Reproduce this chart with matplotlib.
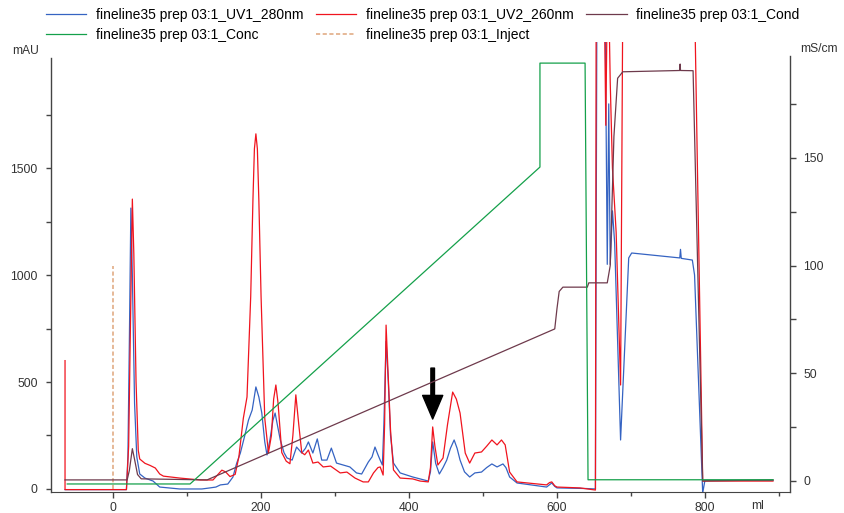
#!/usr/bin/env python3
"""
plot.py

Chromatogram of run fineline35 prep 03:1 (UV 280/260 nm, conductivity,
gradient concentration and injection mark). Writes out.png.
"""

import matplotlib
matplotlib.use("Agg")
import matplotlib.pyplot as plt
from matplotlib.ticker import MultipleLocator


# ------------------------
# Data
# ------------------------

uv1_ml = [-65, 18, 20, 22, 24, 26, 29, 32, 36, 43, 54, 63, 90, 120, 131, 139,
          145, 155, 162, 167, 172, 178, 183, 188, 193, 197, 201, 205, 208, 212,
          216, 219, 222, 226, 231, 235, 242, 248, 255, 260, 264, 270, 276, 282,
          289, 295, 302, 311, 320, 329, 336, 345, 350, 354, 358, 361, 364, 366,
          369, 372, 375, 379, 388, 405, 415, 426, 429, 432, 436, 441, 446, 451,
          456, 461, 465, 469, 475, 482, 489, 498, 505, 512, 519, 527, 531, 536,
          546, 586, 590, 593, 597, 600, 640, 652, 654, 665, 668, 670, 672, 675,
          678, 686, 697, 701, 766, 767, 768, 783, 786, 797, 800, 892]
uv1_mau = [-3, -3, 150, 700, 1313, 1000, 400, 150, 70, 51, 37, 9, 0, 0, 5, 9,
           19, 23, 56, 120, 168, 250, 322, 369, 477, 430, 355, 220, 159, 230,
           320, 355, 300, 229, 170, 145, 135, 196, 168, 190, 220, 168, 234, 135,
           135, 191, 121, 112, 103, 75, 70, 126, 150, 196, 160, 135, 112, 300,
           690, 500, 250, 121, 75, 56, 47, 37, 80, 220, 120, 70, 100, 135,
           190, 229, 190, 135, 80, 56, 75, 79, 100, 117, 103, 117, 100, 56,
           28, 9, 20, 28, 12, 5, 2, 0, 2300, 2300, 1050, 1800, 1050, 1300,
           1150, 229, 1080, 1103, 1080, 1120, 1078, 1070, 1000, -19, 40, 40]

uv2_ml = [-65, -65, 18, 21, 24, 26, 28, 31, 34, 36, 43, 50, 57, 63, 68, 90,
          118, 135, 147, 152, 158, 165, 170, 176, 181, 186, 189, 191, 193, 195,
          197, 200, 205, 210, 214, 217, 220, 223, 228, 234, 239, 243, 247, 251,
          255, 259, 264, 270, 277, 284, 294, 307, 316, 327, 338, 345, 352, 358,
          361, 365, 367, 369, 371, 375, 379, 388, 405, 415, 426, 429, 432, 435,
          439, 446, 452, 459, 464, 469, 476, 482, 489, 498, 505, 512, 519, 525,
          530, 536, 546, 586, 590, 593, 597, 600, 631, 652, 653, 664, 666, 668,
          670, 672, 675, 680, 686, 689, 786, 797, 892]
uv2_mau = [600, -3, -3, 200, 900, 1355, 1100, 500, 180, 140, 120, 110, 98, 70,
           60, 51, 42, 42, 88, 80, 58, 68, 150, 330, 430, 900, 1350, 1590, 1660,
           1590, 1350, 900, 330, 170, 250, 420, 486, 400, 170, 130, 118, 250,
           440, 300, 170, 160, 182, 121, 126, 103, 107, 75, 79, 51, 33, 33, 75,
           100, 103, 65, 300, 766, 600, 276, 89, 51, 47, 37, 33, 100, 290, 200,
           112, 145, 300, 453, 420, 355, 168, 121, 168, 173, 200, 229, 206, 229,
           206, 79, 33, 19, 30, 33, 15, 9, 5, -5, 2300, 2300, 1700, 2300, 2300,
           1900, 1500, 1200, 486, 2300, 2300, 37, 37]

cond_ml = [-65, 19, 22, 26, 29, 33, 38, 127, 597, 600, 603, 608, 641, 643, 668,
           672, 677, 682, 689, 766, 766.5, 767, 784, 797, 892]
cond_ms = [0.5, 0.5, 5, 15, 10, 3, 1, 0.5, 70.6, 80, 88, 90, 90, 92, 92,
           100, 160, 187, 190, 190.6, 193.6, 190.6, 190.5, 0, 0.5]

conc_ml = [-62, 104, 577, 577, 638, 642, 892]
conc_pct = [0, 0, 75.3, 100, 100, 1, 1]

inject_ml = [0, 0]
inject_mau = [0, 1042]

mau_ticks = [0, 500, 1000, 1500]
mau_minor = [250, 750, 1250, 1750]
ms_ticks = [0, 50, 100, 150]
ms_minor = [25, 75, 125, 175]

# peak of interest marked with an arrow
arrow_ml = 432
arrow_from, arrow_to = 565, 327

LABELS = {
    "uv1": "fineline35 prep 03:1_UV1_280nm",
    "uv2": "fineline35 prep 03:1_UV2_260nm",
    "cond": "fineline35 prep 03:1_Cond",
    "conc": "fineline35 prep 03:1_Conc",
    "inject": "fineline35 prep 03:1_Inject",
}

COLORS = {
    "uv1": "#3563c2",
    "uv2": "#f0141e",
    "cond": "#6e3a4c",
    "conc": "#14a04a",
    "inject": "#e2ad86",
}


# ------------------------
# Chart
# ------------------------

def style_axis(ax, side):
    for s in ("top", "right", "left", "bottom"):
        ax.spines[s].set_visible(False)
    if side:
        ax.spines[side].set_visible(True)
        ax.spines[side].set_color("#444444")
        ax.spines[side].set_linewidth(1.0)


def main():
    plt.rcParams["font.family"] = ["Liberation Sans", "DejaVu Sans"]
    fig = plt.figure(figsize=(8.44, 5.13), dpi=100)
    ax = fig.add_axes([0.0604, 0.041, 0.8756, 0.877])
    ax.patch.set_visible(False)

    lw = 0.9
    l_uv1, = ax.plot(uv1_ml, uv1_mau, color=COLORS["uv1"], lw=lw)
    l_uv2, = ax.plot(uv2_ml, uv2_mau, color=COLORS["uv2"], lw=lw)
    l_inj, = ax.plot(inject_ml, inject_mau, color=COLORS["inject"], lw=1.2,
                     ls=(0, (2.5, 1.5)))

    ax2 = ax.twinx()
    l_cond, = ax2.plot(cond_ml, cond_ms, color=COLORS["cond"], lw=lw)

    ax3 = ax.twinx()
    l_conc, = ax3.plot(conc_ml, conc_pct, color=COLORS["conc"], lw=lw)

    # limits
    ax.set_xlim(-84, 915)
    ax.set_ylim(-14, 2089)
    ax2.set_ylim(-5.1, 203.8)
    ax3.set_ylim(-1.9, 105)

    style_axis(ax, "left")
    ax.spines["bottom"].set_visible(True)
    ax.spines["bottom"].set_color("#444444")
    ax.spines["left"].set_bounds(-14, 2014)
    style_axis(ax2, "right")
    ax2.spines["right"].set_bounds(-5.1, 197.3)
    style_axis(ax3, None)
    ax3.set_yticks([])

    tick_kw = dict(direction="out", colors="#444444", labelcolor="#333333",
                   labelsize=8.7, width=1.0)
    ax.xaxis.set_major_locator(MultipleLocator(200))
    ax.xaxis.set_minor_locator(MultipleLocator(100))
    ax.set_yticks(mau_ticks)
    ax.set_yticks(mau_minor, minor=True)
    ax2.set_yticks(ms_ticks)
    ax2.set_yticks(ms_minor, minor=True)
    ax.tick_params(axis="both", which="major", length=4.5, pad=3, **tick_kw)
    ax.tick_params(axis="both", which="minor", length=3, **tick_kw)
    ax.tick_params(axis="y", which="major", length=3.5, pad=6)
    ax.tick_params(axis="y", which="minor", length=3.5)
    ax2.tick_params(axis="y", which="both", length=4.5, pad=5, **tick_kw)

    # arrow marking the peak
    ax.annotate("", xy=(arrow_ml, arrow_to), xytext=(arrow_ml, arrow_from),
                arrowprops=dict(facecolor="black", edgecolor="black",
                                width=2.6, headwidth=14.5, headlength=17,
                                shrink=0.0))

    # unit labels
    fig.text(26 / 844, 1 - 51 / 513, "mAU", ha="center", va="center",
             fontsize=8.7, color="#333333")
    fig.text(819 / 844, 1 - 49 / 513, "mS/cm", ha="center", va="center",
             fontsize=8.7, color="#333333")
    fig.text(758 / 844, 1 - 506 / 513, "ml", ha="center", va="center",
             fontsize=8.7, color="#333333")

    handles = [l_uv1, l_conc, l_uv2, l_inj, l_cond]
    names = [LABELS["uv1"], LABELS["conc"], LABELS["uv2"], LABELS["inject"],
             LABELS["cond"]]
    fig.legend(handles, names, loc="upper left",
               bbox_to_anchor=(46 / 844, 1 - 8 / 513), ncol=3, frameon=False,
               fontsize=10, handlelength=2.9, handletextpad=0.7,
               columnspacing=0.9, labelspacing=0.45, borderpad=0,
               borderaxespad=0)

    fig.savefig("out.png", dpi=100)
    plt.close(fig)


if __name__ == "__main__":
    main()
